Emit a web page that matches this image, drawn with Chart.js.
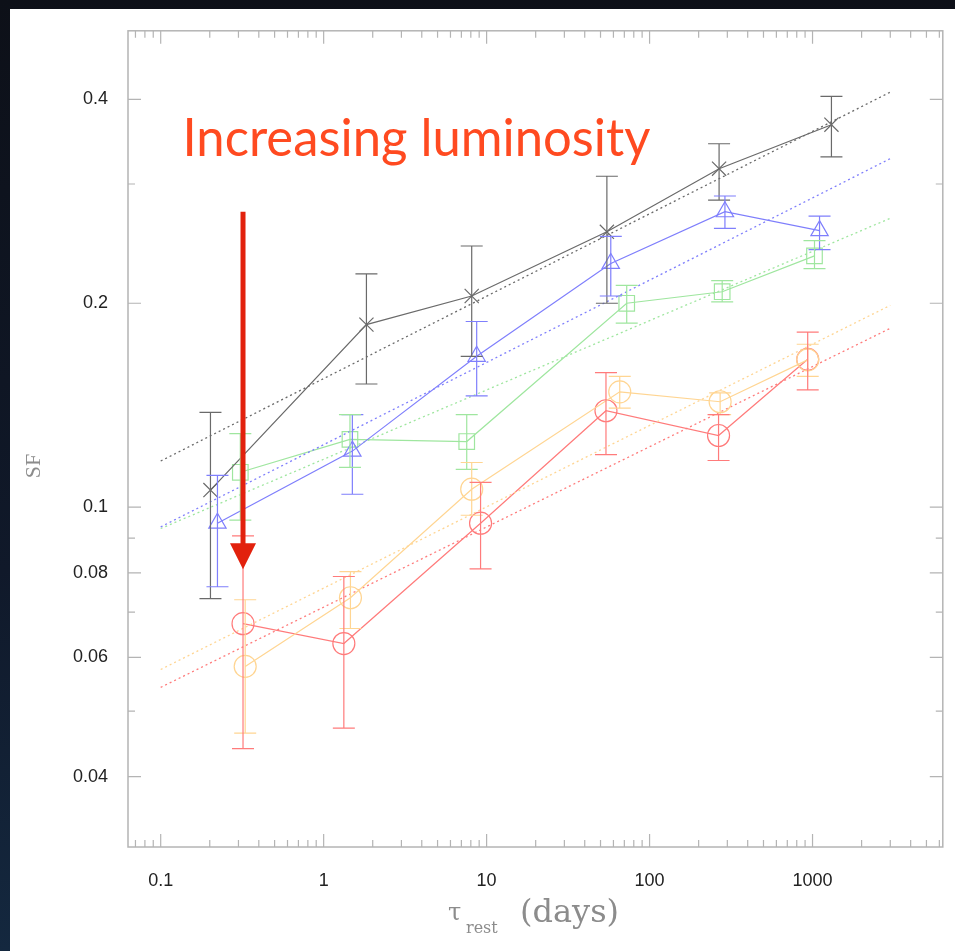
<!DOCTYPE html>
<html>
<head>
<meta charset="utf-8">
<script src="https://cdn.jsdelivr.net/npm/chart.js@4.4.0/dist/chart.umd.min.js"></script>
<style>
html, body { margin: 0; padding: 0; }
body { width: 955px; height: 951px; position: relative; overflow: hidden;
       background: linear-gradient(to bottom, #0d1018 0%, #10192a 60%, #14283f 100%); }
#paper { position: absolute; left: 10px; top: 9px; right: 0; bottom: 0; background: #fff; }
#c { position: absolute; left: 0; top: 0; }
</style>
</head>
<body>
<div id="paper"></div>
<canvas id="c" width="955" height="951"></canvas>
<script>
// tau_rest (days) and SF for each luminosity bin
const tauBlack = [0.202, 1.83, 8.1, 54.7, 267, 1306];
const sfBlack  = [0.106, 0.186, 0.205, 0.255, 0.316, 0.367];
const loBlack  = [0.0733, 0.152, 0.167, 0.200, 0.284, 0.329];
const hiBlack  = [0.138, 0.221, 0.243, 0.308, 0.344, 0.404];

const tauBlue = [0.223, 1.50, 8.69, 57.8, 290, 1104];
const sfBlue  = [0.0947, 0.121, 0.167, 0.229, 0.273, 0.256];
const loBlue  = [0.0763, 0.1045, 0.146, 0.205, 0.258, 0.240];
const hiBlue  = [0.1114, 0.137, 0.188, 0.251, 0.288, 0.269];

const tauGreen = [0.308, 1.45, 7.55, 72.4, 279, 1028];
const sfGreen  = [0.1126, 0.1259, 0.125, 0.200, 0.208, 0.235];
const loGreen  = [0.0957, 0.1145, 0.1137, 0.187, 0.201, 0.225];
const hiGreen  = [0.1284, 0.137, 0.137, 0.2126, 0.216, 0.2475];

const tauYellow = [0.33, 1.46, 8.1, 65.6, 271, 934];
const sfYellow  = [0.0582, 0.0735, 0.1063, 0.148, 0.1431, 0.165];
const loYellow  = [0.0464, 0.0662, 0.0973, 0.140, 0.137, 0.156];
const hiYellow  = [0.073, 0.0803, 0.1164, 0.156, 0.1475, 0.174];

const tauRed = [0.32, 1.33, 9.18, 54, 265, 934];
const sfRed  = [0.0673, 0.0629, 0.0947, 0.1388, 0.1276, 0.1653];
const loRed  = [0.044, 0.0472, 0.0811, 0.1196, 0.1172, 0.149];
const hiRed  = [0.0907, 0.079, 0.1088, 0.158, 0.137, 0.1813];

// power-law fits (dotted), ends of each line
const fitTau    = [0.1, 3000];
const fitBlack  = [0.117, 0.41];
const fitBlue   = [0.0935, 0.327];
const fitGreen  = [0.093, 0.267];
const fitYellow = [0.0576, 0.1986];
const fitRed    = [0.0542, 0.1837];

const xTicks = [0.1, 1, 10, 100, 1000];
const xTickLabels = ['0.1', '1', '10', '100', '1000'];
const yTicks = [0.04, 0.06, 0.08, 0.1, 0.2, 0.4];
const yTickLabels = ['0.04', '0.06', '0.08', '0.1', '0.2', '0.4'];
const yMinor = [0.05, 0.07, 0.09, 0.3];

const arrowTau = 0.32, arrowFrom = 0.273, arrowTo = 0.081;
const noteTau = 0.136, noteSF = 0.33;

const series = [
  { x: tauBlack,  y: sfBlack,  lo: loBlack,  hi: hiBlack,  fit: fitBlack,  color: '#6a6a6a', style: 'crossRot', r: 10 },
  { x: tauBlue,   y: sfBlue,   lo: loBlue,   hi: hiBlue,   fit: fitBlue,   color: '#7f7ffc', style: 'triangle', r: 10 },
  { x: tauGreen,  y: sfGreen,  lo: loGreen,  hi: hiGreen,  fit: fitGreen,  color: '#9fe69f', style: 'rect', r: 11 },
  { x: tauYellow, y: sfYellow, lo: loYellow, hi: hiYellow, fit: fitYellow, color: '#ffd592', style: 'circle', r: 11 },
  { x: tauRed,    y: sfRed,    lo: loRed,    hi: hiRed,    fit: fitRed,    color: '#ff7b7b', style: 'circle', r: 11 }
];

const datasets = [];
series.forEach(s => {
  datasets.push({
    data: s.x.map((v, i) => ({ x: v, y: s.y[i] })),
    showLine: true, borderColor: s.color, borderWidth: 1.2,
    pointStyle: s.style, pointRadius: s.r, pointBorderColor: s.color,
    pointBackgroundColor: 'rgba(0,0,0,0)', pointBorderWidth: 1.2
  });
  datasets.push({
    data: fitTau.map((v, i) => ({ x: v, y: s.fit[i] })),
    showLine: true, borderColor: s.color, borderWidth: 1.3, borderDash: [2, 3],
    pointRadius: 0
  });
});

const xMinor = [];
for (let d = 0.01; d <= 1000; d *= 10)
  for (let k = 2; k <= 9; k++) {
    const v = +(k * d).toPrecision(3);
    if (v > 0.063 && v < 6300) xMinor.push(v);
  }

const decor = {
  id: 'decor',
  afterDatasetsDraw(chart) {
    const ctx = chart.ctx, a = chart.chartArea;
    const xs = chart.scales.x, ys = chart.scales.y;
    ctx.save();
    // error bars
    series.forEach(s => {
      ctx.strokeStyle = s.color;
      ctx.lineWidth = 1.2;
      s.x.forEach((v, i) => {
        const px = xs.getPixelForValue(v);
        const p1 = ys.getPixelForValue(s.lo[i]), p2 = ys.getPixelForValue(s.hi[i]);
        ctx.beginPath();
        ctx.moveTo(px, p1); ctx.lineTo(px, p2);
        ctx.moveTo(px - 11, p1); ctx.lineTo(px + 11, p1);
        ctx.moveTo(px - 11, p2); ctx.lineTo(px + 11, p2);
        ctx.stroke();
      });
    });
    // frame + inward ticks
    ctx.strokeStyle = '#b4b4b4';
    ctx.lineWidth = 1.5;
    ctx.strokeRect(a.left, a.top, a.right - a.left, a.bottom - a.top);
    ctx.lineWidth = 1.2;
    ctx.beginPath();
    const xt = (v, len) => {
      const px = xs.getPixelForValue(v);
      ctx.moveTo(px, a.bottom); ctx.lineTo(px, a.bottom - len);
      ctx.moveTo(px, a.top); ctx.lineTo(px, a.top + len);
    };
    const yt = (v, len) => {
      const py = ys.getPixelForValue(v);
      ctx.moveTo(a.left, py); ctx.lineTo(a.left + len, py);
      ctx.moveTo(a.right, py); ctx.lineTo(a.right - len, py);
    };
    xTicks.forEach(v => xt(v, 13));
    xMinor.forEach(v => xt(v, 7));
    yTicks.forEach(v => yt(v, 13));
    yMinor.forEach(v => yt(v, 7));
    ctx.stroke();
    ctx.restore();
  },
  afterDraw(chart) {
    const ctx = chart.ctx, a = chart.chartArea;
    const xs = chart.scales.x, ys = chart.scales.y;
    ctx.save();
    // arrow
    const ax = xs.getPixelForValue(arrowTau);
    const ay1 = ys.getPixelForValue(arrowFrom), ay2 = ys.getPixelForValue(arrowTo);
    ctx.strokeStyle = '#e2210d';
    ctx.fillStyle = '#e2210d';
    ctx.lineWidth = 5;
    ctx.beginPath();
    ctx.moveTo(ax, ay1); ctx.lineTo(ax, ay2 - 22);
    ctx.stroke();
    ctx.beginPath();
    ctx.moveTo(ax - 13, ay2 - 26); ctx.lineTo(ax + 13, ay2 - 26); ctx.lineTo(ax, ay2);
    ctx.closePath(); ctx.fill();
    // note
    const nx = xs.getPixelForValue(noteTau), ny = ys.getPixelForValue(noteSF);
    ctx.font = '52px Lato';
    ctx.fillStyle = '#ff4a20';
    ctx.textBaseline = 'alphabetic';
    const txt = 'Increasing luminosity';
    const w = ctx.measureText(txt).width;
    ctx.translate(nx, ny);
    ctx.scale(468 / w, 1);
    ctx.fillText(txt, 0, 0);
    ctx.restore();

    // axis titles
    ctx.save();
    ctx.fillStyle = '#8c8c8c';
    ctx.font = '22px "Liberation Serif"';
    ctx.textAlign = 'center';
    ctx.textBaseline = 'middle';
    ctx.translate(34, (a.top + a.bottom) / 2 + 27);
    ctx.rotate(-Math.PI / 2);
    ctx.fillText('SF', 0, 0);
    ctx.restore();

    ctx.save();
    ctx.fillStyle = '#8c8c8c';
    ctx.textBaseline = 'alphabetic';
    ctx.font = '24px "DejaVu Serif"';
    ctx.fillText('\u03c4', 448, 920);
    ctx.font = '16px "DejaVu Serif"';
    ctx.fillText('rest', 466, 933);
    ctx.font = '32px "DejaVu Serif"';
    ctx.fillText('(days)', 520, 922);
    ctx.restore();
  }
};

new Chart(document.getElementById('c'), {
  type: 'scatter',
  data: { datasets: datasets },
  options: {
    responsive: false,
    animation: false,
    devicePixelRatio: 1,
    layout: { padding: { left: 0, top: 27, right: 9, bottom: 0 } },
    plugins: { legend: { display: false }, tooltip: { enabled: false } },
    scales: {
      x: {
        type: 'logarithmic', min: 0.063, max: 6300,
        grid: { display: false, drawTicks: false }, border: { display: false },
        afterBuildTicks: s => { s.ticks = xTicks.map(v => ({ value: v })); },
        afterFit: s => { s.height = 104; },
        ticks: {
          autoSkip: false, maxRotation: 0, padding: 23, color: '#222',
          font: { family: 'Liberation Sans', size: 18 },
          callback: v => xTickLabels[xTicks.indexOf(v)]
        }
      },
      y: {
        type: 'logarithmic', min: 0.0315, max: 0.505,
        grid: { display: false, drawTicks: false }, border: { display: false },
        afterBuildTicks: s => { s.ticks = yTicks.map(v => ({ value: v })); },
        afterFit: s => { s.width = 128; },
        ticks: {
          autoSkip: false, padding: 20, color: '#222',
          font: { family: 'Liberation Sans', size: 18 },
          callback: v => yTickLabels[yTicks.indexOf(v)]
        }
      }
    }
  },
  plugins: [decor]
});
</script>
</body>
</html>
